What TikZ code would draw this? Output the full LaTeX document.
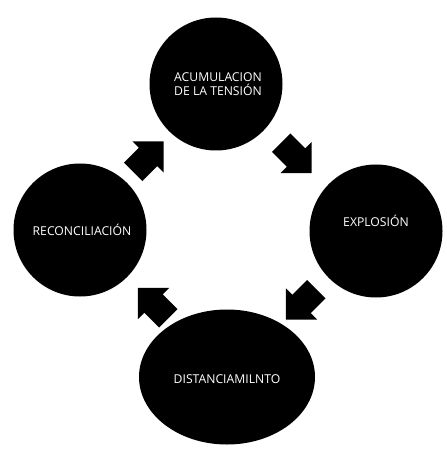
\documentclass[tikz,border=0pt]{standalone}
\usepackage{fontspec}
\setmainfont{Open Sans}
\usetikzlibrary{shapes.geometric,calc}
\tikzset{
  bigc/.style={circle, fill=black, draw=none, minimum size=133pt, inner sep=0pt},
  bigell/.style={ellipse, fill=black, draw=none, minimum width=176pt, minimum height=135pt, inner sep=0pt},
  lbl/.style={text=white, font=\fontsize{12.2}{13.5}\selectfont, align=center, inner sep=0pt},
  blockarrow/.style={fill=black, draw=none}
}
\newcommand{\blockarrowpath}{(-21pt,-13pt) -- (0pt,-13pt) -- (0pt,-22pt) -- (22pt,0pt) -- (0pt,22pt) -- (0pt,13pt) -- (-21pt,13pt) -- cycle}
\begin{document}
\begin{tikzpicture}[x=1pt, y=-1pt]
\useasboundingbox (0,0) rectangle (446,454);
\node[bigc] (top) at (216,84) {};
\node[bigc] (right) at (376,231) {};
\node[bigc] (left) at (80,230) {};
\node[bigell] (bottom) at (227,377) {};
\node[lbl] (ttop) at ($(top.center)+(2,0)$) {ACUMULACION\\DE LA TENSIÓN};
\node[lbl] (tright) at ($(right.center)+(0,-10)$) {EXPLOSIÓN};
\node[lbl] (tleft) at ($(left.center)+(2,0)$) {RECONCILIACIÓN};
\node[lbl] (tbottom) at ($(bottom.center)+(0,2)$) {DISTANCIAMILNTO};
\coordinate (a1) at ($(left)!0.5!(top)$);
\coordinate (a2) at ($(top)!0.5!(right)$);
\coordinate (a3) at ($(right)!0.5!(bottom)$);
\coordinate (a4) at ($(bottom)!0.5!(left)$);
\fill[blockarrow, shift={(a1)}, rotate=45] \blockarrowpath;
\fill[blockarrow, shift={(a2)}, rotate=-45] \blockarrowpath;
\fill[blockarrow, shift={(a3)}, rotate=-135] \blockarrowpath;
\fill[blockarrow, shift={(a4)}, rotate=135] \blockarrowpath;
\end{tikzpicture}
\end{document}
